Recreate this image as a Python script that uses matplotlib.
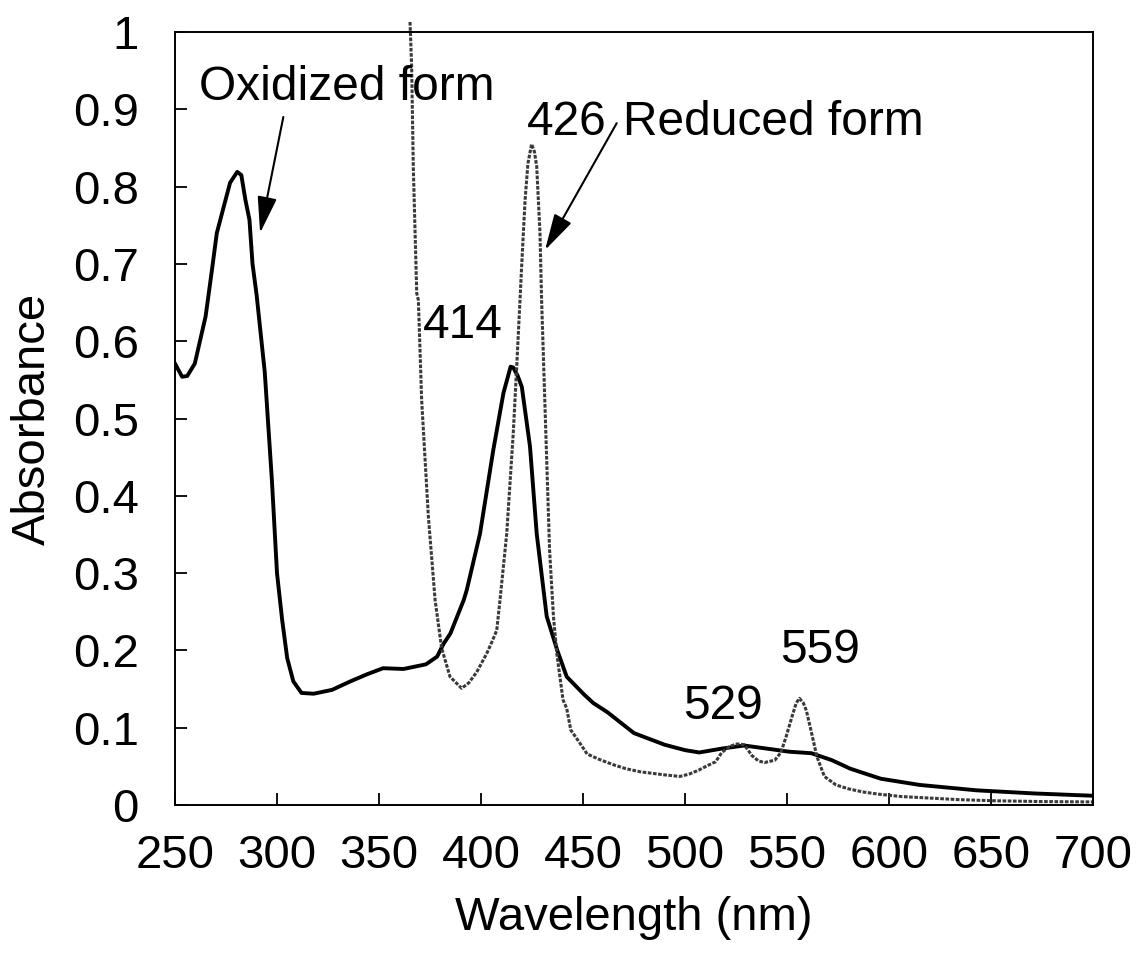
import matplotlib.pyplot as plt

plt.rcParams['font.family'] = ['Liberation Sans', 'DejaVu Sans']

# oxidized form (solid line)
ox_nm = [250, 253.5, 256, 259.7, 265, 268, 270.5, 273.5, 277, 280.5, 282.5, 284.5,
         286.5, 288, 290, 294, 297.5, 300, 302.5, 305, 308, 312, 318, 327, 336, 344,
         352, 362, 373, 378.5, 381.5, 385, 391.5, 393, 399.5, 406, 411, 414.5, 415.8,
         418, 420, 424, 427.3, 432.2, 437.4, 442, 450.5, 455, 462, 475, 490, 500, 507,
         518, 529, 540, 551, 562, 572, 581, 596, 615, 643, 671, 700]
ox_abs = [0.571, 0.554, 0.555, 0.571, 0.632, 0.69, 0.74, 0.77, 0.805, 0.819, 0.815, 0.783,
          0.757, 0.70, 0.66, 0.56, 0.42, 0.30, 0.24, 0.19, 0.16, 0.145, 0.144, 0.149, 0.16, 0.169,
          0.177, 0.176, 0.182, 0.192, 0.208, 0.222, 0.265, 0.278, 0.351, 0.459, 0.533, 0.567, 0.566,
          0.555, 0.541, 0.464, 0.351, 0.244, 0.20, 0.166, 0.143, 0.132, 0.12, 0.093, 0.078, 0.071, 0.068,
          0.073, 0.077, 0.073, 0.069, 0.067, 0.058, 0.047, 0.034, 0.026, 0.019, 0.015, 0.012]

# reduced form (dotted line)
red_nm = [365.2, 366, 366.8, 368.5, 369.3, 370.9, 374.2, 377.5, 380.7, 384.8, 390.5, 394,
          397.9, 402.8, 405.5, 407.7, 409.3, 412.6, 415.8, 417.5, 419.1, 419.9, 421.6, 423,
          424.8, 426.2, 427.3, 428.9, 429.7, 433.6, 435.5, 437.2, 440.2, 442, 444, 448.5,
          452, 458, 465, 471, 478, 484, 490, 497.5, 502, 506.6, 511, 515, 518, 522, 525.5,
          529, 532.8, 536, 539, 544, 547, 549.5, 552.4, 554.5, 556.1, 558, 559.5, 561.7,
          564.6, 568.3, 574, 580, 587, 595, 606, 620, 634, 652, 675, 700]
red_abs = [1.013, 0.955, 0.826, 0.662, 0.653, 0.524, 0.373, 0.265, 0.203, 0.166, 0.151, 0.158,
           0.172, 0.196, 0.212, 0.226, 0.265, 0.351, 0.481, 0.567, 0.653, 0.696, 0.783, 0.83,
           0.855, 0.845, 0.826, 0.740, 0.653, 0.33, 0.244, 0.195, 0.136, 0.125, 0.097, 0.08,
           0.066, 0.059, 0.052, 0.047, 0.043, 0.041, 0.039, 0.037, 0.04, 0.045, 0.051, 0.056, 0.068, 0.076, 0.079,
           0.078, 0.064, 0.057, 0.055, 0.058, 0.068, 0.088, 0.114, 0.132, 0.138, 0.132, 0.122, 0.097,
           0.063, 0.037, 0.026, 0.021, 0.017, 0.014, 0.011, 0.009, 0.007, 0.0055, 0.0045, 0.004]

x_ticks = [250, 300, 350, 400, 450, 500, 550, 600, 650, 700]
y_ticks = [0, 0.1, 0.2, 0.3, 0.4, 0.5, 0.6, 0.7, 0.8, 0.9, 1]
y_tick_labels = ['0', '0.1', '0.2', '0.3', '0.4', '0.5', '0.6', '0.7', '0.8', '0.9', '1']

# peak labels: (text, x, y)
peak_labels = [('414', 371.6, 0.604), ('426', 422.4, 0.867), ('529', 499.2, 0.111), ('559', 546.8, 0.184)]

fig = plt.figure(figsize=(11.46, 9.61), dpi=100)
ax = fig.add_axes([0.1527, 0.1623, 0.8011, 0.8044])

ax.plot(ox_nm, ox_abs, color='black', lw=2.8, solid_joinstyle='round')
ax.plot(red_nm, red_abs, color='#3a3a3a', lw=2.2, linestyle=(0, (1.2, 0.5)), clip_on=False)

ax.set_xlim(250, 700)
ax.set_ylim(0, 1)
ax.set_xticks(x_ticks)
ax.set_yticks(y_ticks)
ax.set_yticklabels(y_tick_labels)
ax.tick_params(axis='both', direction='in', length=8.5, width=1.3, labelsize=34)
ax.tick_params(axis='y', pad=26)
ax.tick_params(axis='x', pad=21)
for s in ax.spines.values():
    s.set_linewidth(1.4)

ax.set_xlabel('Wavelength (nm)', fontsize=34, labelpad=13)
ax.set_ylabel('Absorbance', fontsize=34, labelpad=13)

for txt, x, y in peak_labels:
    ax.text(x, y, txt, fontsize=34.5, ha='left', va='baseline')

ax.text(261.8, 0.912, 'Oxidized form', fontsize=34.5, ha='left', va='baseline')
ax.text(469.7, 0.867, 'Reduced form', fontsize=34.5, ha='left', va='baseline')

arrow = dict(arrowstyle='-|>,head_length=1.5,head_width=0.4', mutation_scale=15,
             color='black', lw=1.5, shrinkA=0, shrinkB=0)
ax.annotate('', xy=(291.7, 0.740), xytext=(303.1, 0.890), arrowprops=arrow)
ax.annotate('', xy=(431.4, 0.718), xytext=(466.5, 0.882), arrowprops=arrow)

plt.savefig('out.png', dpi=100)
